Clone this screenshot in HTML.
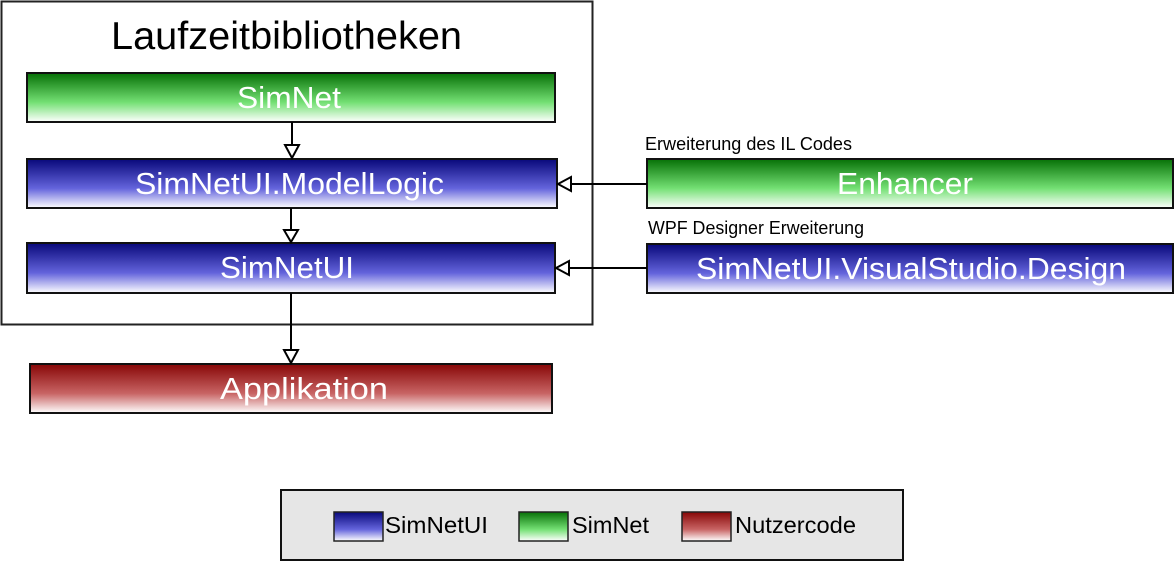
<!DOCTYPE html>
<html><head><meta charset="utf-8"><style>html,body{margin:0;padding:0;background:#fff;width:1175px;height:563px;overflow:hidden}</style></head>
<body>
<svg width="1175" height="563" xmlns="http://www.w3.org/2000/svg" font-family="Liberation Sans, Arial, sans-serif">
<defs>
<linearGradient id="g" x1="0" y1="0" x2="0" y2="1"><stop offset="0" stop-color="#067006"/><stop offset="0.6" stop-color="#74e074"/><stop offset="1" stop-color="#ffffff"/></linearGradient>
<linearGradient id="b" x1="0" y1="0" x2="0" y2="1"><stop offset="0" stop-color="#08087a"/><stop offset="0.6" stop-color="#6464dc"/><stop offset="1" stop-color="#ffffff"/></linearGradient>
<linearGradient id="r" x1="0" y1="0" x2="0" y2="1"><stop offset="0" stop-color="#870606"/><stop offset="0.6" stop-color="#c86464"/><stop offset="1" stop-color="#ffffff"/></linearGradient>
</defs>
<rect x="1.5" y="1.5" width="591" height="323" fill="#fff" stroke="#222" stroke-width="2"/>
<text x="111" y="49" font-size="39" textLength="351" lengthAdjust="spacingAndGlyphs" fill="#000">Laufzeitbibliotheken</text>
<g stroke="#111" stroke-width="2">
<rect x="27" y="73" width="528" height="49" fill="url(#g)"/>
<rect x="27" y="159" width="530" height="49" fill="url(#b)"/>
<rect x="27" y="243" width="528" height="50" fill="url(#b)"/>
<rect x="30" y="364" width="522" height="49" fill="url(#r)"/>
<rect x="647" y="159" width="526" height="49" fill="url(#g)"/>
<rect x="647" y="244" width="526" height="49" fill="url(#b)"/>
</g>
<g fill="#fff" font-size="31" lengthAdjust="spacingAndGlyphs">
<text x="237" y="108" textLength="104" lengthAdjust="spacingAndGlyphs">SimNet</text>
<text x="135" y="194" textLength="309" lengthAdjust="spacingAndGlyphs">SimNetUI.ModelLogic</text>
<text x="220" y="278" textLength="134" lengthAdjust="spacingAndGlyphs">SimNetUI</text>
<text x="220" y="399" textLength="168" lengthAdjust="spacingAndGlyphs">Applikation</text>
<text x="837" y="194" textLength="136" lengthAdjust="spacingAndGlyphs">Enhancer</text>
<text x="696" y="279" textLength="430" lengthAdjust="spacingAndGlyphs">SimNetUI.VisualStudio.Design</text>
</g>
<g fill="#000" font-size="18">
<text x="645" y="150" textLength="207" lengthAdjust="spacingAndGlyphs">Erweiterung des IL Codes</text>
<text x="648" y="234" textLength="216" lengthAdjust="spacingAndGlyphs">WPF Designer Erweiterung</text>
</g>
<g stroke="#000" stroke-width="2" fill="#fff">
<line x1="292" y1="122" x2="292" y2="145"/><polygon points="285,145 299,145 292,158"/>
<line x1="291" y1="208" x2="291" y2="230"/><polygon points="284,230 298,230 291,242"/>
<line x1="291" y1="293" x2="291" y2="350"/><polygon points="284,350 298,350 291,363"/>
<line x1="647" y1="184" x2="571" y2="184"/><polygon points="571,177 571,191 558,184"/>
<line x1="647" y1="268" x2="569" y2="268"/><polygon points="569,261 569,275 556,268"/>
</g>
<rect x="281" y="490" width="622" height="70" fill="#e6e6e6" stroke="#111" stroke-width="2"/>
<g stroke="#222" stroke-width="1.5">
<rect x="334" y="512" width="49" height="29" fill="url(#b)"/>
<rect x="519" y="512" width="49" height="29" fill="url(#g)"/>
<rect x="682" y="512" width="49" height="29" fill="url(#r)"/>
</g>
<g fill="#000" font-size="23">
<text x="385" y="533" textLength="103" lengthAdjust="spacingAndGlyphs">SimNetUI</text>
<text x="572" y="533" textLength="77" lengthAdjust="spacingAndGlyphs">SimNet</text>
<text x="735" y="533" textLength="121" lengthAdjust="spacingAndGlyphs">Nutzercode</text>
</g>
</svg>
</body></html>
